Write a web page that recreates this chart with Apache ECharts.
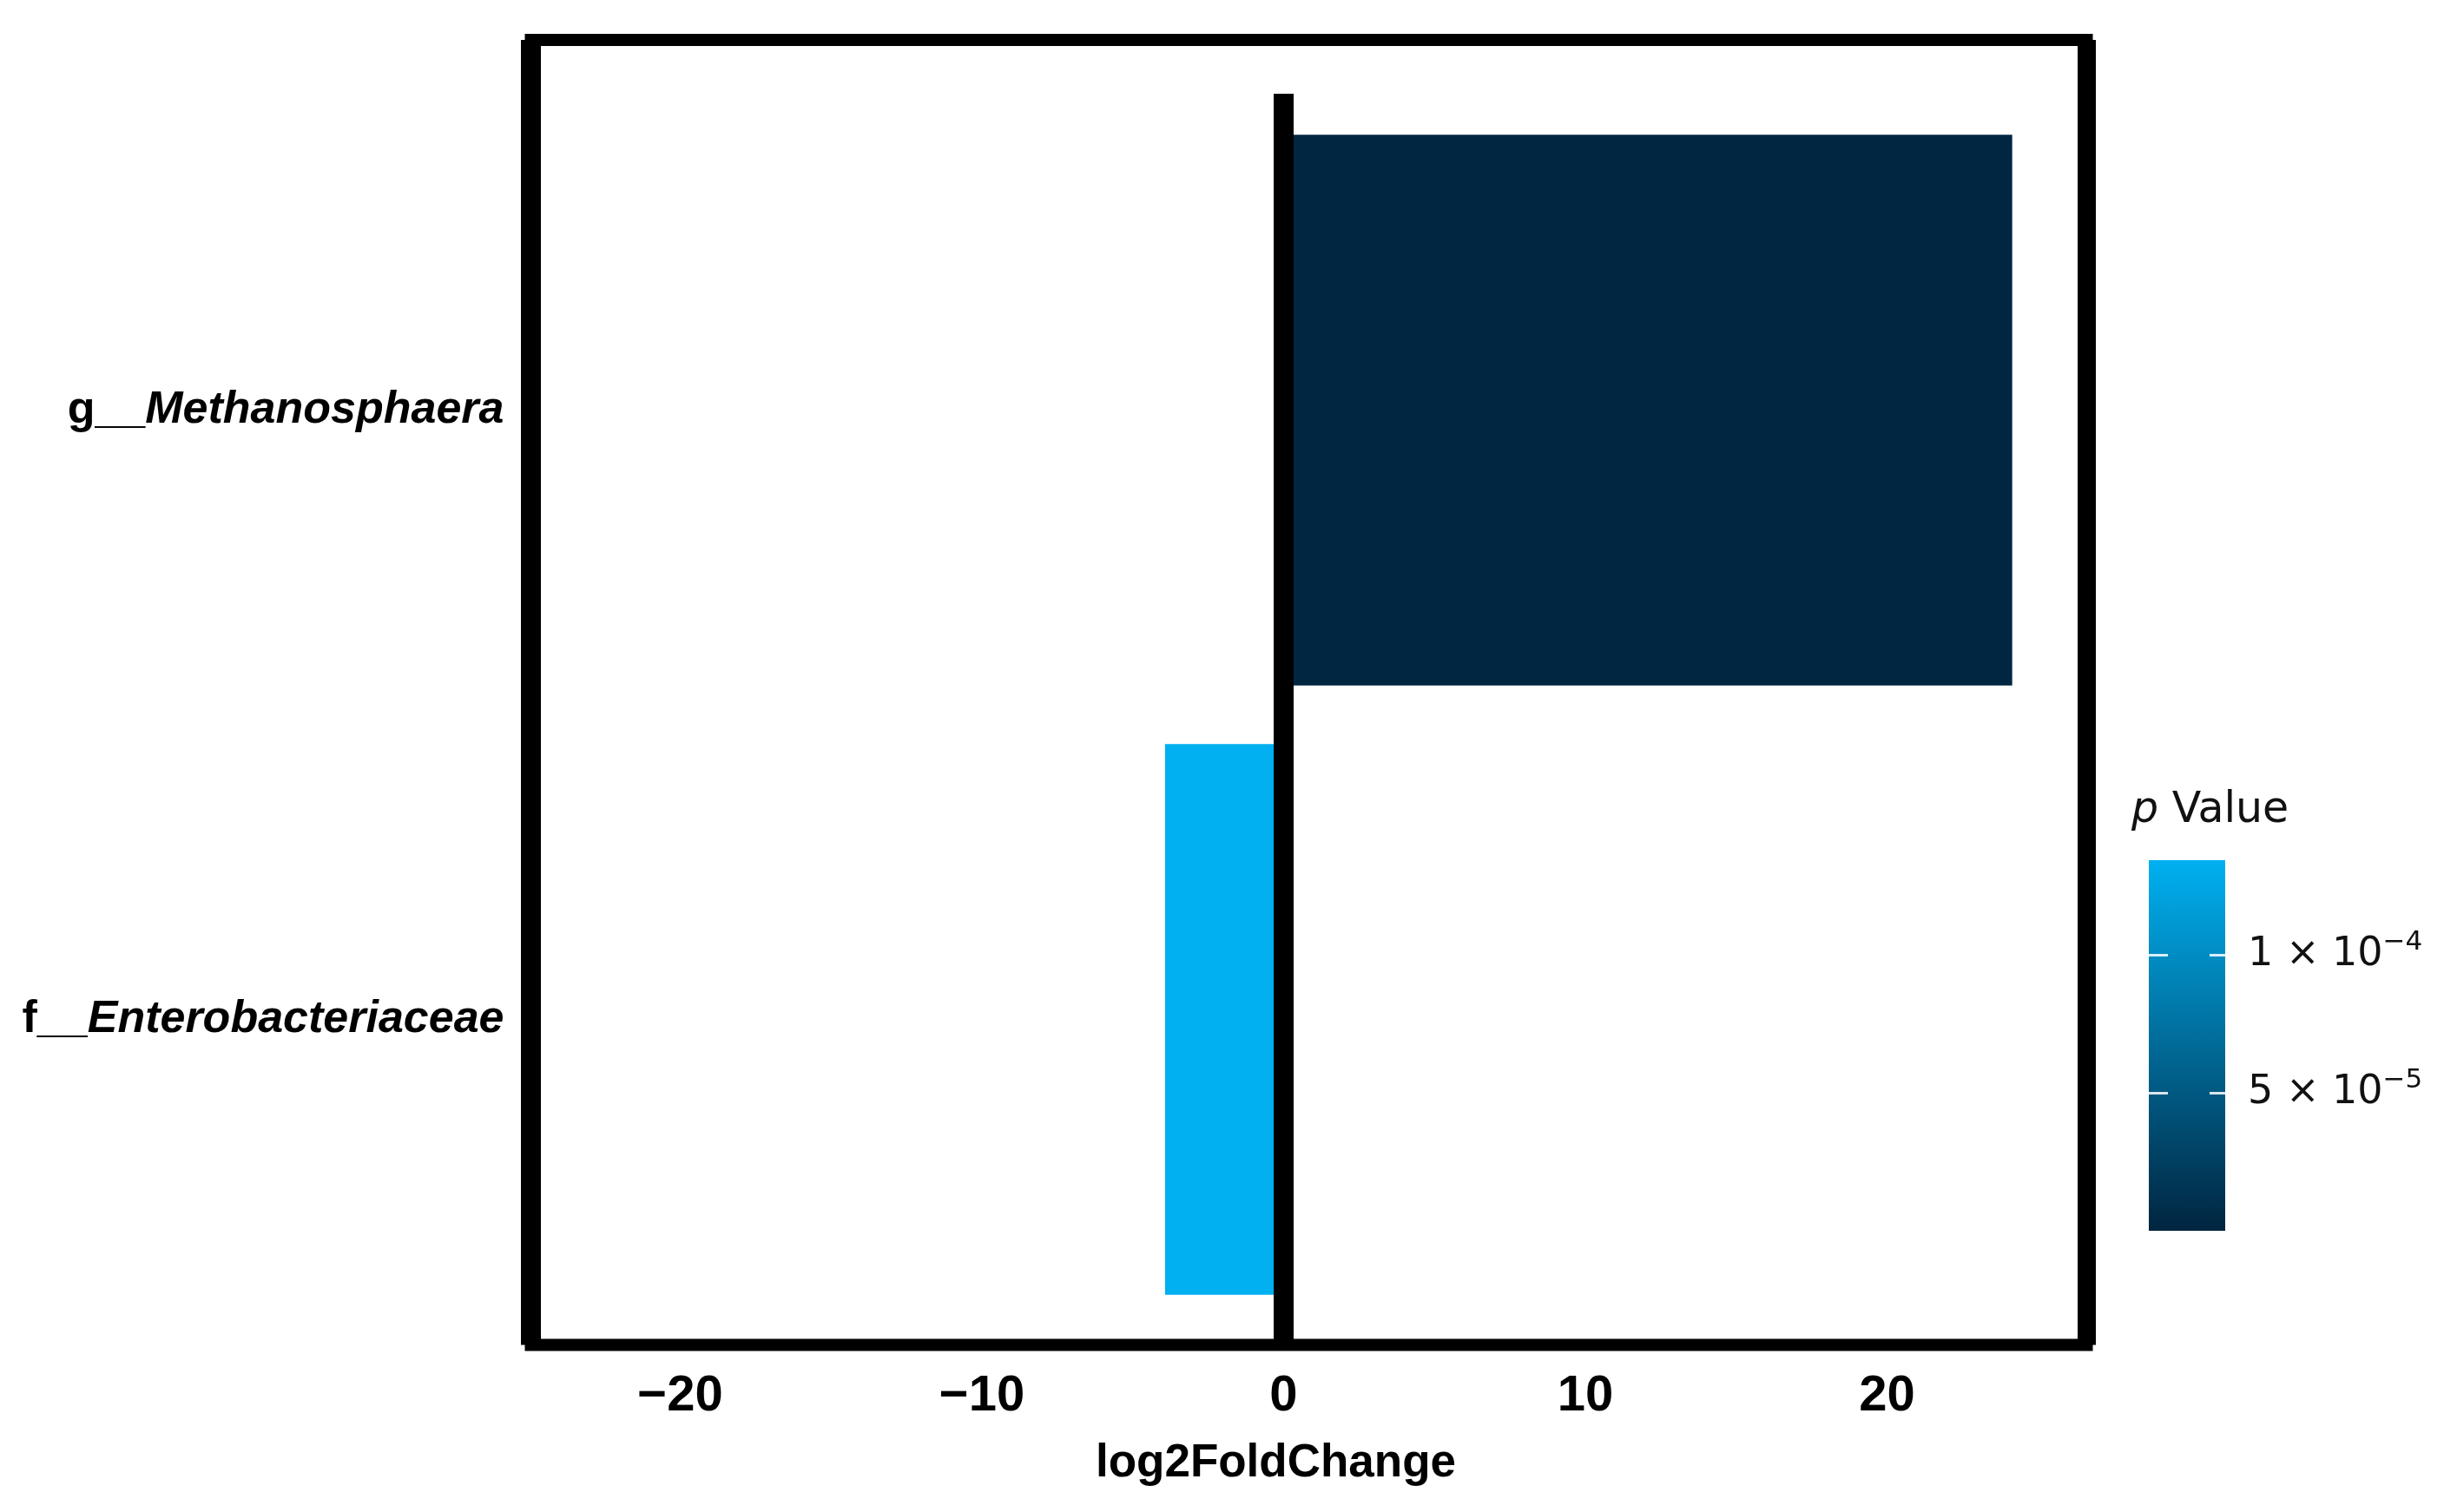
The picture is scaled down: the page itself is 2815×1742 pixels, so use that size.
<!DOCTYPE html>
<html>
<head>
<meta charset="utf-8">
<title>log2FoldChange</title>
<script src="https://cdn.jsdelivr.net/npm/echarts@6.0.0/dist/echarts.min.js"></script>
<style>
  html, body { margin: 0; padding: 0; background: #fff; }
  #chart { width: 2815px; height: 1742px; }
</style>
</head>
<body>
<div id="chart"></div>
<script>
// data
const categories = ['g__Methanosphaera', 'f__Enterobacteriaceae'];
const log2fc = [24.15, -3.93];
const pValues = [0.000001, 0.0001342];
const xTicks = [-20, -10, 0, 10, 20];
const pTicks = [0.00005, 0.0001];
const pMin = 0;
const pMax = 0.0001342;
const lowColor = '#012540';
const highColor = '#00b0f0';

// x scale shared by the frame, the bars and the zero line
const xMin = -24.95;
const xMax = 26.62;

const chart = echarts.init(document.getElementById('chart'));

const hidden = { show: false };
// "5 × 10{s|−5}" style label for the colour bar
function sci(v) {
  const e = Math.floor(Math.log10(v) + 1e-9);
  const m = Math.round(v / Math.pow(10, e));
  return '{b|' + m + ' × 10}{s|−' + Math.abs(e) + '}';
}

const option = {
  backgroundColor: '#fff',
  animation: false,
  title: {
    text: '{i|p} Value',
    left: 2450,
    top: 905,
    textStyle: {
      fontFamily: 'DejaVu Sans', fontSize: 49, fontWeight: 'normal', color: '#111',
      rich: { i: { fontFamily: 'DejaVu Sans', fontSize: 49, fontStyle: 'italic', color: '#111' } }
    }
  },
  visualMap: {
    type: 'continuous',
    show: false,
    seriesIndex: 0,
    dimension: 2,
    min: pMin,
    max: pMax,
    inRange: { color: [lowColor, highColor] }
  },
  grid: [
    // frame
    { left: 611.5, top: 46, width: 1792, height: 1503.5, show: true,
      borderWidth: 14, borderColor: '#000', backgroundColor: 'transparent', outerBoundsMode: 'none' },
    // bars
    { left: 611.5, top: 121.5, width: 1792, height: 1404, outerBoundsMode: 'none' },
    // zero line
    { left: 611.5, top: 108, width: 1792, height: 1441.5, outerBoundsMode: 'none' },
    // colour bar
    { left: 2475, top: 991, width: 88, height: 427, outerBoundsMode: 'none' }
  ],
  xAxis: [
    {
      gridIndex: 0, type: 'value', min: xMin, max: xMax,
      axisLine: { show: false, onZero: false }, axisTick: hidden, splitLine: hidden,
      axisLabel: {
        customValues: xTicks, margin: 30, color: '#000',
        fontFamily: 'Liberation Sans', fontWeight: 'bold', fontSize: 58,
        formatter: v => (v < 0 ? '−' + Math.abs(v) : String(v))
      },
      name: 'log2FoldChange', nameLocation: 'middle', nameGap: 110,
      nameTextStyle: { fontFamily: 'Liberation Sans', fontWeight: 'bold', fontSize: 53, color: '#000',
        padding: [0, 76, 0, 0] }
    },
    { gridIndex: 1, type: 'value', min: xMin, max: xMax, show: false },
    { gridIndex: 2, type: 'value', min: xMin, max: xMax, show: false },
    { gridIndex: 3, type: 'category', data: ['p'], show: false }
  ],
  yAxis: [
    { gridIndex: 0, type: 'value', min: 0, max: 1, position: 'left',
      axisLine: { show: true, onZero: false, lineStyle: { color: '#000', width: 23, cap: 'butt' } },
      axisTick: hidden, axisLabel: hidden, splitLine: hidden },
    { gridIndex: 0, type: 'value', min: 0, max: 1, position: 'right',
      axisLine: { show: true, onZero: false, lineStyle: { color: '#000', width: 21, cap: 'butt' } },
      axisTick: hidden, axisLabel: hidden, splitLine: hidden },
    {
      gridIndex: 1, type: 'category', data: categories, inverse: true, position: 'left',
      axisLine: { show: false, onZero: false }, axisTick: hidden, splitLine: hidden,
      axisLabel: {
        margin: 31,
        formatter: v => '{n|' + v.slice(0, 3) + '}{i|' + v.slice(3) + '}',
        rich: {
          n: { fontFamily: 'Liberation Sans', fontWeight: 'bold', fontSize: 52, color: '#000' },
          i: { fontFamily: 'Liberation Sans', fontWeight: 'bold', fontStyle: 'italic', fontSize: 52, color: '#000' }
        }
      }
    },
    { gridIndex: 2, type: 'value', min: 0, max: 1, z: 10,
      axisLine: { show: true, onZero: true, lineStyle: { color: '#000', width: 23, cap: 'butt' } },
      axisTick: hidden, axisLabel: hidden, splitLine: hidden },
    { gridIndex: 3, type: 'value', min: pMin, max: pMax, position: 'left', z: 10,
      axisLine: hidden, splitLine: hidden, axisLabel: hidden,
      axisTick: { show: true, inside: true, length: 22, customValues: pTicks,
        lineStyle: { color: 'rgba(255,255,255,0.85)', width: 3, cap: 'butt' } } },
    { gridIndex: 3, type: 'value', min: pMin, max: pMax, position: 'right', z: 10,
      axisLine: hidden, splitLine: hidden,
      axisTick: { show: true, inside: true, length: 18, customValues: pTicks,
        lineStyle: { color: 'rgba(255,255,255,0.85)', width: 3, cap: 'butt' } },
      axisLabel: {
        customValues: pTicks, margin: 26, formatter: sci,
        rich: {
          b: { fontFamily: 'DejaVu Sans', fontSize: 46, lineHeight: 58, color: '#111' },
          s: { fontFamily: 'DejaVu Sans', fontSize: 31, lineHeight: 31, verticalAlign: 'top', color: '#111' }
        }
      }
    }
  ],
  series: [
    {
      type: 'bar',
      xAxisIndex: 1, yAxisIndex: 2,
      barWidth: '90.4%',
      encode: { x: 0, y: 1 },
      data: categories.map((c, i) => [log2fc[i], c, pValues[i]])
    },
    {
      type: 'bar',
      xAxisIndex: 3, yAxisIndex: 5,
      barWidth: '100%',
      silent: true,
      data: [pMax],
      itemStyle: {
        color: new echarts.graphic.LinearGradient(0, 0, 0, 1, [
          { offset: 0, color: highColor },
          { offset: 1, color: lowColor }
        ])
      }
    }
  ]
};

chart.setOption(option);
</script>
</body>
</html>
